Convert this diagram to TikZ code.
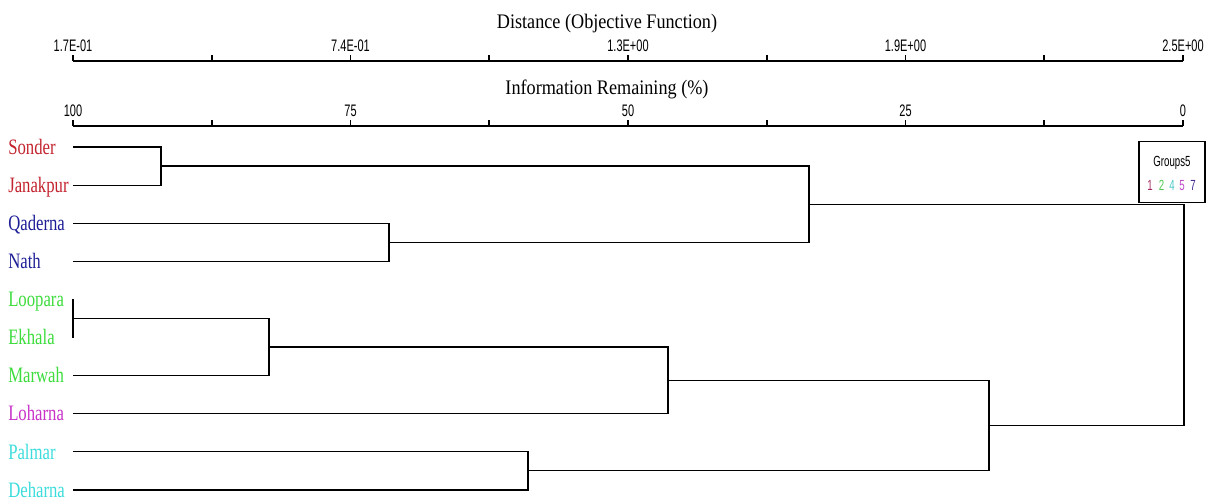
\documentclass[tikz,border=0pt]{standalone}
\usepackage{fontspec}
\setmainfont{Liberation Serif}
\newfontfamily\leaffont[FakeStretch=0.76]{Liberation Serif}
\newfontfamily\titlefont[FakeStretch=0.88]{Liberation Serif}
\newfontfamily\tickfont[FakeStretch=0.66]{Liberation Sans}
\usepackage{tikz}

\definecolor{grpred}{RGB}{195,35,45}
\definecolor{grpblue}{RGB}{30,30,150}
\definecolor{grpgreen}{RGB}{60,220,60}
\definecolor{grpmagenta}{RGB}{200,50,200}
\definecolor{grpcyan}{RGB}{60,220,220}

\begin{document}
\begin{tikzpicture}[x=0.75pt, y=-0.75pt,
    axisline/.style={line width=1.6pt},
    axistick/.style={line width=1.2pt},
    branch/.style={line width=0.9pt},
    axistitle/.style={inner sep=0pt, text height=10.5pt, text depth=0pt, font=\titlefont\fontsize{15.5}{16}\selectfont},
    ticklabel/.style={inner sep=0pt, text height=8.6pt, text depth=0pt, font=\tickfont\fontsize{12.5}{13}\selectfont},
    leaf/.style={anchor=west, inner sep=0pt, text height=10.9pt, text depth=0pt, font=\leaffont\fontsize{16.5}{17}\selectfont},
    legendtext/.style={inner sep=0pt, text height=7.5pt, text depth=0pt, font=\tickfont\fontsize{11}{12}\selectfont}]
    \useasboundingbox (0,0) rectangle (1219,503);

    % distance axis
    \node[axistitle] (disttitle) at (607,22) {Distance (Objective Function)};
    \draw[axisline] (73,61) -- (1183,61);
    \foreach \i in {0,...,8}
        \draw[axistick] ({73+\i*138.75},61) -- ++(0,-6);
    \foreach \i/\v in {0/1.7E-01, 2/7.4E-01, 4/1.3E+00, 6/1.9E+00, 8/2.5E+00}
        \node[ticklabel] (dist\i) at ({73+\i*138.75},46) {\v};

    % information axis
    \node[axistitle] (infotitle) at (607,87) {Information Remaining (\%)};
    \draw[axisline] (73,126) -- (1183,126);
    \foreach \i in {0,...,8}
        \draw[axistick] ({73+\i*138.75},126) -- ++(0,-6);
    \foreach \i/\v in {0/100, 2/75, 4/50, 6/25, 8/0}
        \node[ticklabel] (info\i) at ({73+\i*138.75},110.5) {\v};

    % leaves
    \foreach \n/\t/\c [count=\k from 0] in {sonder/Sonder/grpred, janakpur/Janakpur/grpred,
            qaderna/Qaderna/grpblue, nath/Nath/grpblue, loopara/Loopara/grpgreen,
            ekhala/Ekhala/grpgreen, marwah/Marwah/grpgreen, loharna/Loharna/grpmagenta,
            palmar/Palmar/grpcyan, deharna/Deharna/grpcyan} {
        \node[leaf, text=\c] (lab-\n) at (8,{147+\k*38.1}) {\t};
        \coordinate (\n) at (73,{147+\k*38.1});
    }

    % merges
    \coordinate (m1) at (161,166.05);
    \coordinate (m2) at (389,242.25);
    \coordinate (m3) at (809,204.15);
    \coordinate (m4) at (73,318.45);
    \coordinate (m5) at (269,347.0);
    \coordinate (m6) at (668,380.35);
    \coordinate (m7) at (528,470.85);
    \coordinate (m8) at (989,425.6);
    \coordinate (m9) at (1184,314.9);

    \draw[branch] (sonder) -| (m1) |- (janakpur);
    \draw[branch] (qaderna) -| (m2) |- (nath);
    \draw[branch] (m1) -| (m3) |- (m2);
    \draw[branch] (loopara) -| (m4) |- (ekhala);
    \draw[branch] (m4) -| (m5) |- (marwah);
    \draw[branch] (m5) -| (m6) |- (loharna);
    \draw[branch] (palmar) -| (m7) |- (deharna);
    \draw[branch] (m6) -| (m8) |- (m7);
    \draw[branch] (m3) -| (m9) |- (m8);

    % legend
    \node[draw, line width=0.8pt, inner sep=0pt, minimum width=49.5pt, minimum height=45.5pt] (legend) at (1172,172) {};
    \node[legendtext] (groups) at (1172,161) {Groups5};
    \node[legendtext, text={rgb,255:red,165;green,45;blue,100}] (g1) at (1150,185) {1};
    \node[legendtext, text={rgb,255:red,80;green,200;blue,80}] (g2) at (1161.5,185) {2};
    \node[legendtext, text={rgb,255:red,80;green,200;blue,200}] (g4) at (1172,185) {4};
    \node[legendtext, text={rgb,255:red,190;green,70;blue,200}] (g5) at (1182,185) {5};
    \node[legendtext, text={rgb,255:red,70;green,40;blue,140}] (g7) at (1193,185) {7};
\end{tikzpicture}
\end{document}
